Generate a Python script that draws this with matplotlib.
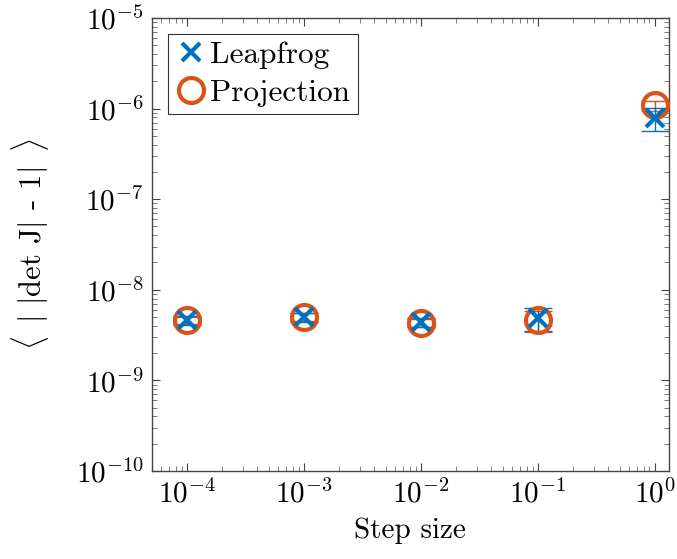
import matplotlib
matplotlib.use("Agg")
import matplotlib.pyplot as plt
import numpy as np

plt.rcParams['font.family'] = 'serif'
plt.rcParams['font.serif'] = ['cmr10']
plt.rcParams['mathtext.fontset'] = 'cm'
plt.rcParams['axes.formatter.use_mathtext'] = True
plt.rcParams['axes.unicode_minus'] = True

step = [1e-4, 1e-3, 1e-2, 1e-1, 1e0]
leap_mean = [4.6e-9, 5.0e-9, 4.4e-9, 4.9e-9, 7.9e-7]
leap_err = [0.5e-9, 0.6e-9, 0.5e-9, 1.4e-9, 2.3e-7]
proj_mean = [4.6e-9, 5.0e-9, 4.3e-9, 4.6e-9, 1.08e-6]
proj_err = [0.4e-9, 0.5e-9, 0.4e-9, 1.2e-9, 1.3e-7]

blue = '#0072BD'
orange = '#D95319'

fig = plt.figure(figsize=(6.77, 5.59), dpi=100)
ax = fig.add_axes([0.2245, 0.1574, 0.7635, 0.8106])

# error bars first, markers drawn on top
ax.errorbar(step, proj_mean, yerr=proj_err, fmt='none', ecolor=orange,
            elinewidth=1, capsize=10, capthick=1, zorder=2)
ax.errorbar(step, leap_mean, yerr=leap_err, fmt='none', ecolor=blue,
            elinewidth=1, capsize=10, capthick=1, zorder=3)
ax.plot(step, proj_mean, 'o', color=orange, mfc='none', markersize=18, mew=3,
        label='Projection', zorder=4)
ax.plot(step, leap_mean, 'x', color=blue, markersize=13, mew=3,
        label='Leapfrog', zorder=5)

ax.set_xscale('log')
ax.set_yscale('log')
ax.set_xlim(10**-4.3, 10**0.12)
ax.set_ylim(1e-10, 1e-5)
ax.set_xticks([1e-4, 1e-3, 1e-2, 1e-1, 1e0])
ax.set_yticks([1e-10, 1e-9, 1e-8, 1e-7, 1e-6, 1e-5])
ax.tick_params(which='both', direction='in', top=True, right=True, labelsize=21, pad=6)
ax.tick_params(which='major', length=6, width=0.8, color='#444444')
ax.tick_params(which='minor', length=3.5, width=0.6, color='#666666')
for s in ax.spines.values():
    s.set_color('#444444')
    s.set_linewidth(1.0)

ax.set_xlabel('Step size', fontsize=21, labelpad=6)
ax.set_ylabel(r'$\langle\ \,|\ |$det J$|$ - 1$|\ \,\rangle$', fontsize=22, labelpad=18)

handles, labels = ax.get_legend_handles_labels()
leg = ax.legend(handles[::-1], labels[::-1], loc='upper left', fontsize=22.5,
                frameon=True, fancybox=False, edgecolor='black',
                handletextpad=0.1, borderpad=0.25, handlelength=1.0,
                labelspacing=0.3, borderaxespad=0.5)
leg.get_frame().set_linewidth(0.8)

fig.savefig('out.png', dpi=100)
